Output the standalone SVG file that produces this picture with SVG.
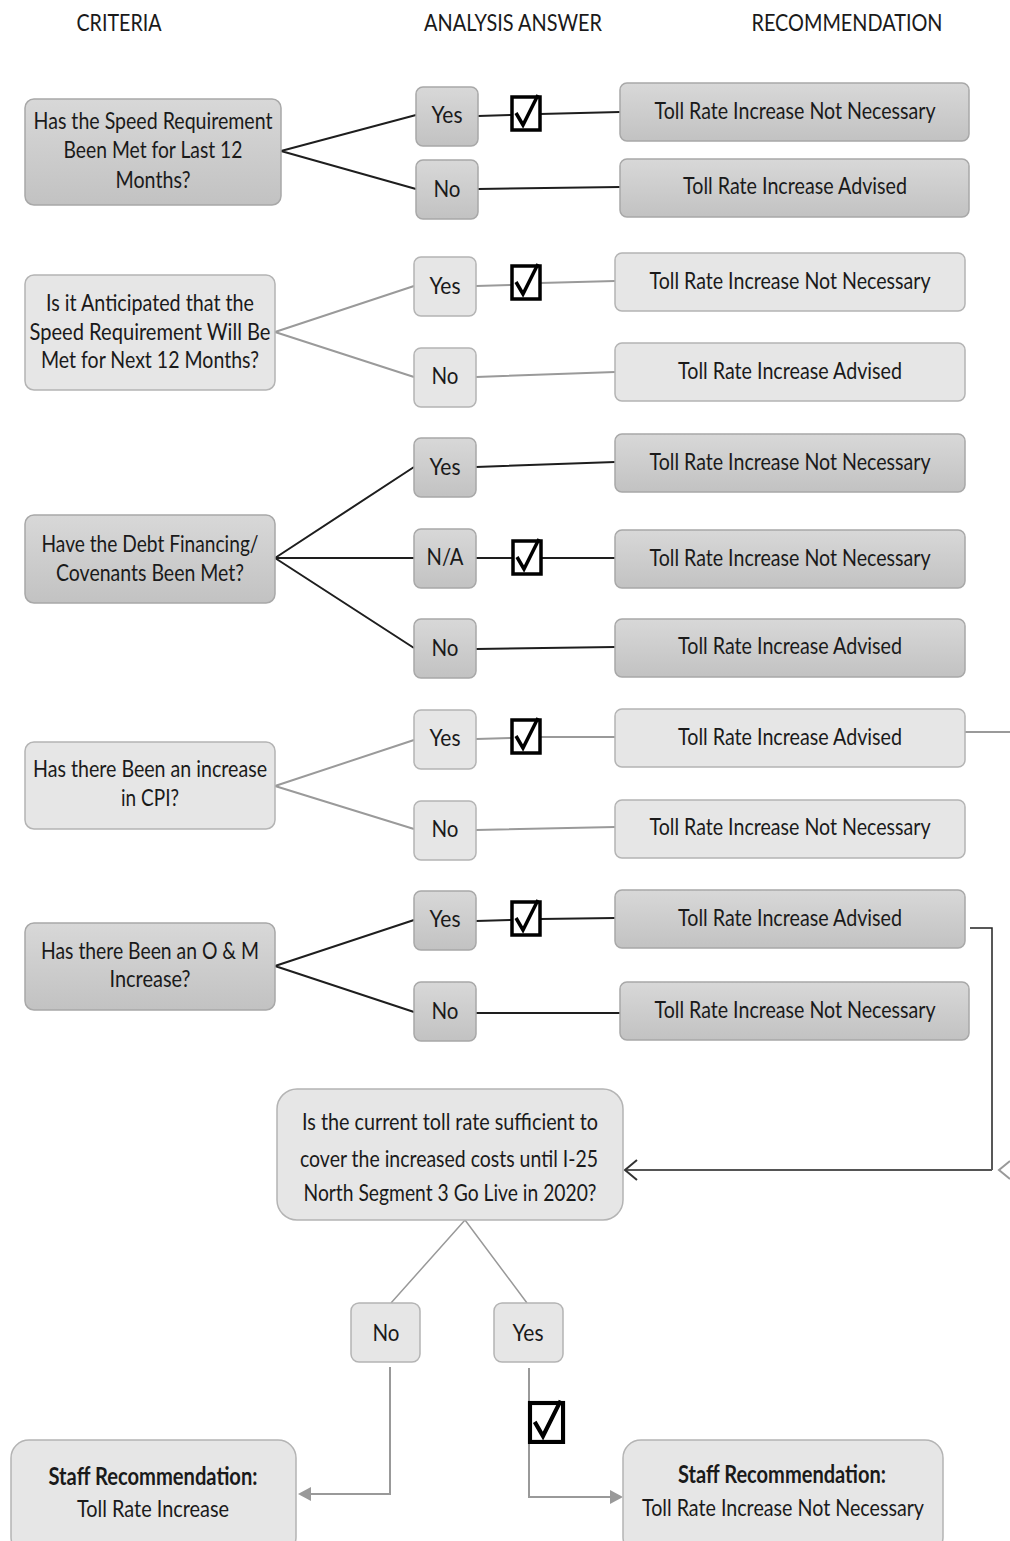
<svg xmlns="http://www.w3.org/2000/svg" width="1010" height="1541" viewBox="0 0 1010 1541">
<style>
text{font-family:"Lato","Open Sans","Liberation Sans",sans-serif;font-size:24px;fill:#1a1a1a;text-anchor:middle}
.hd{font-size:23px}
.b{font-weight:bold}
.dk{fill:url(#gd);stroke:#a8a8a8;stroke-width:1.5}
.lt{fill:#e6e6e6;stroke:#b4b4b4;stroke-width:1.5}
.k{fill:none;stroke:#1e1e1e;stroke-width:2}
.g{fill:none;stroke:#9a9a9a;stroke-width:2}
.m{fill:none;stroke:#555;stroke-width:2}
</style>
<defs>
<linearGradient id="gd" x1="0" y1="0" x2="0" y2="1">
<stop offset="0" stop-color="#d8d8d8"/>
<stop offset="1" stop-color="#c2c2c2"/>
</linearGradient>
<g id="chk">
<rect x="0" y="0" width="28" height="33" fill="#fff" stroke="#000" stroke-width="3.5"/>
<path d="M4,16 L11,28 L26,-2" fill="none" stroke="#000" stroke-width="3.5"/>
</g>
</defs>

<g id="headers">
<text class="hd" x="119" y="31" textLength="85" lengthAdjust="spacingAndGlyphs">CRITERIA</text>
<text class="hd" x="513" y="31" textLength="178" lengthAdjust="spacingAndGlyphs">ANALYSIS ANSWER</text>
<text class="hd" x="847" y="31" textLength="191" lengthAdjust="spacingAndGlyphs">RECOMMENDATION</text>
</g>

<g id="connectors">
<path class="k" d="M281,151 L416,115 M281,151 L416,189 M478,116 L512,115 M540,114 L620,112 M478,189 L620,187"/>
<path class="g" d="M275,332 L414,286 M275,332 L414,377 M476,286 L512,285 M540,283 L615,281 M476,377 L615,372"/>
<path class="k" d="M275,558 L414,467 M275,558 L414,558 M275,558 L414,648 M476,467 L615,462 M476,558 L513,558 M541,558 L615,558 M476,649 L615,647"/>
<path class="g" d="M275,786 L414,740 M275,786 L414,829 M476,739 L512,738 M540,737 L615,737 M476,830 L615,827 M965,732 L1010,732"/>
<path class="k" d="M275,966 L414,920 M275,966 L414,1012 M476,921 L512,920 M540,919 L615,918 M476,1013 L620,1013"/>
<path fill="none" stroke="#222" stroke-width="1.5" d="M970,928 L992,928 L992,1170"/>
<path class="m" stroke-width="2.5" d="M992,1170 L625,1170"/>
<path fill="none" stroke="#333" stroke-width="2" d="M637,1160 L625,1170 L637,1180"/>
<path fill="none" stroke="#999" stroke-width="2" d="M1010,1161 L999,1170 L1010,1179"/>
<path fill="none" stroke="#999" stroke-width="1.5" d="M465,1220 L391,1303 M465,1220 L527,1303"/>
<path fill="none" stroke="#999" stroke-width="2" d="M390,1367 L390,1494 L308,1494 M529,1368 L529,1497 L612,1497"/>
<polygon fill="#999" points="298,1494 311,1487 311,1501"/>
<polygon fill="#999" points="623,1497 610,1490 610,1504"/>
</g>

<g id="checks">
<use href="#chk" x="512" y="97"/>
<use href="#chk" x="512" y="266"/>
<use href="#chk" x="513" y="541"/>
<use href="#chk" x="512" y="720"/>
<use href="#chk" x="512" y="902"/>
<use href="#chk" transform="translate(530,1403) scale(1.18,1.18)"/>
</g>

<!-- Row 1 -->
<g id="c1"><rect class="dk" x="25" y="99" width="256" height="106" rx="9"/>
<text x="153" y="129" textLength="239" lengthAdjust="spacingAndGlyphs">Has the Speed Requirement</text>
<text x="153" y="158" textLength="179" lengthAdjust="spacingAndGlyphs">Been Met for Last 12</text>
<text x="153" y="188" textLength="75" lengthAdjust="spacingAndGlyphs">Months?</text></g>
<g id="a1y"><rect class="dk" x="416" y="87" width="62" height="59" rx="7"/><text x="447" y="123" textLength="31" lengthAdjust="spacingAndGlyphs">Yes</text></g>
<g id="a1n"><rect class="dk" x="416" y="160" width="62" height="59" rx="7"/><text x="447" y="197" textLength="27" lengthAdjust="spacingAndGlyphs">No</text></g>
<g id="r1y"><rect class="dk" x="620" y="83" width="349" height="58" rx="7"/><text x="795" y="119" textLength="281" lengthAdjust="spacingAndGlyphs">Toll Rate Increase Not Necessary</text></g>
<g id="r1n"><rect class="dk" x="620" y="159" width="349" height="58" rx="7"/><text x="795" y="194" textLength="224" lengthAdjust="spacingAndGlyphs">Toll Rate Increase Advised</text></g>

<!-- Row 2 -->
<g id="c2"><rect class="lt" x="25" y="275" width="250" height="115" rx="9"/>
<text x="150" y="311" textLength="208" lengthAdjust="spacingAndGlyphs">Is it Anticipated that the</text>
<text x="150" y="340" textLength="241" lengthAdjust="spacingAndGlyphs">Speed Requirement Will  Be</text>
<text x="150" y="368" textLength="218" lengthAdjust="spacingAndGlyphs">Met for Next 12 Months?</text></g>
<g id="a2y"><rect class="lt" x="414" y="257" width="62" height="59" rx="7"/><text x="445" y="294" textLength="31" lengthAdjust="spacingAndGlyphs">Yes</text></g>
<g id="a2n"><rect class="lt" x="414" y="348" width="62" height="59" rx="7"/><text x="445" y="384" textLength="27" lengthAdjust="spacingAndGlyphs">No</text></g>
<g id="r2y"><rect class="lt" x="615" y="253" width="350" height="58" rx="7"/><text x="790" y="289" textLength="281" lengthAdjust="spacingAndGlyphs">Toll Rate Increase Not Necessary</text></g>
<g id="r2n"><rect class="lt" x="615" y="343" width="350" height="58" rx="7"/><text x="790" y="379" textLength="224" lengthAdjust="spacingAndGlyphs">Toll Rate Increase Advised</text></g>

<!-- Row 3 -->
<g id="c3"><rect class="dk" x="25" y="515" width="250" height="88" rx="9"/>
<text x="150" y="552" textLength="217" lengthAdjust="spacingAndGlyphs">Have the Debt Financing/</text>
<text x="150" y="581" textLength="188" lengthAdjust="spacingAndGlyphs">Covenants Been Met?</text></g>
<g id="a3y"><rect class="dk" x="414" y="438" width="62" height="59" rx="7"/><text x="445" y="475" textLength="31" lengthAdjust="spacingAndGlyphs">Yes</text></g>
<g id="a3na"><rect class="dk" x="414" y="529" width="62" height="59" rx="7"/><text x="445" y="565" textLength="37" lengthAdjust="spacingAndGlyphs">N/A</text></g>
<g id="a3n"><rect class="dk" x="414" y="619" width="62" height="59" rx="7"/><text x="445" y="656" textLength="27" lengthAdjust="spacingAndGlyphs">No</text></g>
<g id="r3y"><rect class="dk" x="615" y="434" width="350" height="58" rx="7"/><text x="790" y="470" textLength="281" lengthAdjust="spacingAndGlyphs">Toll Rate Increase Not Necessary</text></g>
<g id="r3na"><rect class="dk" x="615" y="530" width="350" height="58" rx="7"/><text x="790" y="566" textLength="281" lengthAdjust="spacingAndGlyphs">Toll Rate Increase Not Necessary</text></g>
<g id="r3n"><rect class="dk" x="615" y="619" width="350" height="58" rx="7"/><text x="790" y="654" textLength="224" lengthAdjust="spacingAndGlyphs">Toll Rate Increase Advised</text></g>

<!-- Row 4 -->
<g id="c4"><rect class="lt" x="25" y="742" width="250" height="87" rx="9"/>
<text x="150" y="777" textLength="234" lengthAdjust="spacingAndGlyphs">Has there Been an increase</text>
<text x="150" y="806" textLength="58" lengthAdjust="spacingAndGlyphs">in CPI?</text></g>
<g id="a4y"><rect class="lt" x="414" y="710" width="62" height="59" rx="7"/><text x="445" y="746" textLength="31" lengthAdjust="spacingAndGlyphs">Yes</text></g>
<g id="a4n"><rect class="lt" x="414" y="801" width="62" height="59" rx="7"/><text x="445" y="837" textLength="27" lengthAdjust="spacingAndGlyphs">No</text></g>
<g id="r4y"><rect class="lt" x="615" y="709" width="350" height="58" rx="7"/><text x="790" y="745" textLength="224" lengthAdjust="spacingAndGlyphs">Toll Rate Increase Advised</text></g>
<g id="r4n"><rect class="lt" x="615" y="800" width="350" height="58" rx="7"/><text x="790" y="835" textLength="281" lengthAdjust="spacingAndGlyphs">Toll Rate Increase Not Necessary</text></g>

<!-- Row 5 -->
<g id="c5"><rect class="dk" x="25" y="923" width="250" height="87" rx="9"/>
<text x="150" y="959" textLength="218" lengthAdjust="spacingAndGlyphs">Has there Been an O &amp; M</text>
<text x="150" y="987" textLength="81" lengthAdjust="spacingAndGlyphs">Increase?</text></g>
<g id="a5y"><rect class="dk" x="414" y="891" width="62" height="59" rx="7"/><text x="445" y="927" textLength="31" lengthAdjust="spacingAndGlyphs">Yes</text></g>
<g id="a5n"><rect class="dk" x="414" y="982" width="62" height="59" rx="7"/><text x="445" y="1019" textLength="27" lengthAdjust="spacingAndGlyphs">No</text></g>
<g id="r5y"><rect class="dk" x="615" y="890" width="350" height="58" rx="7"/><text x="790" y="926" textLength="224" lengthAdjust="spacingAndGlyphs">Toll Rate Increase Advised</text></g>
<g id="r5n"><rect class="dk" x="620" y="982" width="349" height="58" rx="7"/><text x="795" y="1018" textLength="281" lengthAdjust="spacingAndGlyphs">Toll Rate Increase Not Necessary</text></g>

<!-- Final question -->
<g id="q"><rect class="lt" x="277" y="1089" width="346" height="131" rx="20"/>
<text x="450" y="1130" textLength="296" lengthAdjust="spacingAndGlyphs">Is the current toll rate sufficient to</text>
<text x="449" y="1167" textLength="298" lengthAdjust="spacingAndGlyphs">cover the increased costs until I-25</text>
<text x="450" y="1201" textLength="293" lengthAdjust="spacingAndGlyphs">North Segment 3 Go Live in 2020?</text></g>
<g id="qn"><rect class="lt" x="351" y="1303" width="69" height="59" rx="8"/><text x="386" y="1341" textLength="27" lengthAdjust="spacingAndGlyphs">No</text></g>
<g id="qy"><rect class="lt" x="494" y="1303" width="69" height="59" rx="8"/><text x="528" y="1341" textLength="31" lengthAdjust="spacingAndGlyphs">Yes</text></g>

<g id="s1"><rect class="lt" x="11" y="1440" width="285" height="115" rx="18"/>
<text class="b" x="153" y="1485" textLength="209" lengthAdjust="spacingAndGlyphs">Staff Recommendation:</text>
<text x="153" y="1517" textLength="152" lengthAdjust="spacingAndGlyphs">Toll Rate Increase</text></g>
<g id="s2"><rect class="lt" x="623" y="1440" width="320" height="115" rx="18"/>
<text class="b" x="782" y="1483" textLength="208" lengthAdjust="spacingAndGlyphs">Staff Recommendation:</text>
<text x="783" y="1516" textLength="282" lengthAdjust="spacingAndGlyphs">Toll Rate Increase Not Necessary</text></g>
</svg>
